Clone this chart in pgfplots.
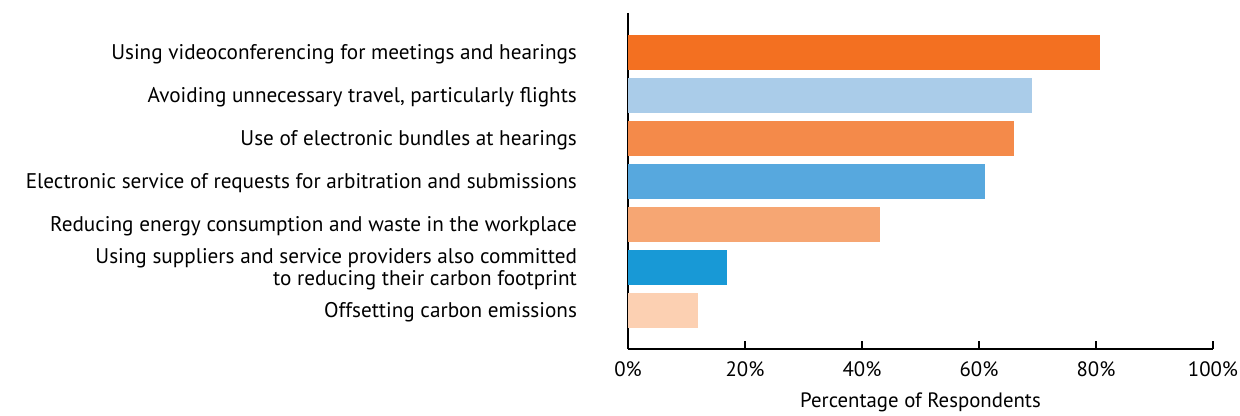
\documentclass[border=0pt]{standalone}
\usepackage{fontspec}
\setmainfont{PT Sans}
\usepackage{pgfplots}
\pgfplotsset{compat=1.18}
\definecolor{c1}{HTML}{F37021}
\definecolor{c2}{HTML}{AACCE9}
\definecolor{c3}{HTML}{F48A4A}
\definecolor{c4}{HTML}{57A8DE}
\definecolor{c5}{HTML}{F6A673}
\definecolor{c6}{HTML}{1899D6}
\definecolor{c7}{HTML}{FCD0B2}
\begin{document}
\begin{tikzpicture}
\useasboundingbox (-314pt,-33.5pt) rectangle (306pt,174.5pt);
\begin{axis}[
  scale only axis,
  width=292.5pt, height=168pt,
  xbar, bar width=17.5pt, bar shift=0pt,
  xmin=0, xmax=100,
  ymin=-0.919, ymax=6.895,
  y dir=reverse,
  axis x line=bottom, axis y line=left,
  axis line style={-, line width=1pt},
  xtick={0,20,40,60,80,100},
  xticklabels={0\%,20\%,40\%,60\%,80\%,100\%},
  xtick align=inside,
  major tick length=4pt,
  tick style={line width=1pt, black},
  ytick={0,1,2,3,4,5,6},
  yticklabels={
    Using videoconferencing for meetings and hearings,
    {Avoiding unnecessary travel, particularly flights},
    Use of electronic bundles at hearings,
    Electronic service of requests for arbitration and submissions,
    Reducing energy consumption and waste in the workplace,
    {Using suppliers and service providers also committed\\to reducing their carbon footprint},
    Offsetting carbon emissions},
  ytick style={draw=none},
  yticklabel style={align=right, font=\fontsize{10.6}{11}\selectfont, xshift=-20pt, yshift=-1pt},
  xticklabel style={font=\fontsize{10.4}{11}\selectfont, yshift=-3pt},
  xlabel={Percentage of Respondents},
  xlabel style={font=\fontsize{10.4}{11}\selectfont, yshift=-1pt},
  every axis plot/.append style={draw=none},
]
\addplot[fill=c1] coordinates {(80.7,0)};
\addplot[fill=c2] coordinates {(69.0,1)};
\addplot[fill=c3] coordinates {(66.0,2)};
\addplot[fill=c4] coordinates {(61.0,3)};
\addplot[fill=c5] coordinates {(43.0,4)};
\addplot[fill=c6] coordinates {(17.0,5)};
\addplot[fill=c7] coordinates {(12.0,6)};
\end{axis}
\end{tikzpicture}
\end{document}
